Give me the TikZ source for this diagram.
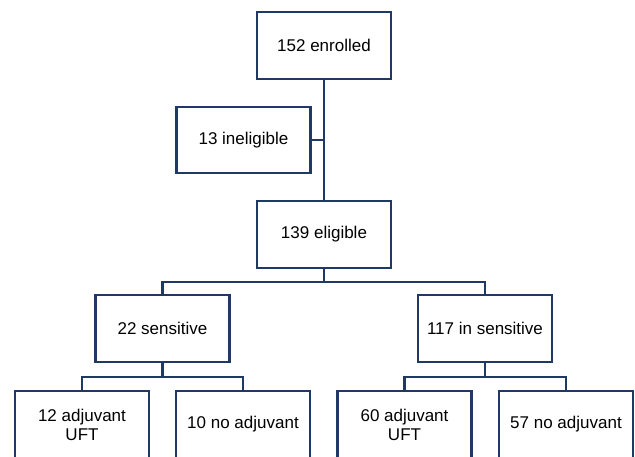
\documentclass[tikz,border=0pt]{standalone}
\usepackage{fontspec}
\setmainfont{Liberation Sans}
\usetikzlibrary{positioning}
\definecolor{boxblue}{RGB}{31,56,100}

\begin{document}
\begin{tikzpicture}[x=1pt,y=-1pt,line width=2.6pt,
  box/.style={draw=boxblue,fill=white,minimum width=134pt,minimum height=67pt,align=center,
    font=\fontsize{17}{19}\selectfont}]
\useasboundingbox (0,0) rectangle (635,456);
\clip (0,0) rectangle (635,456);
\node[box] (enr) at (324,45.5) {152 enrolled};
\node[box,minimum height=66pt] (inel) at (243.5,140) {13 ineligible};
\node[box] (elig) at (324,234.5) {139 eligible};
\node[box] (sens) at (162.5,328.5) {22 sensitive};
\node[box] (insens) at (485,328.5) {117 in sensitive};
\node[box] (adj1) at (82,424.5) {12 adjuvant\\UFT};
\node[box] (noadj1) at (243,424.5) {10 no adjuvant};
\node[box] (adj2) at (404.5,424.5) {60 adjuvant\\UFT};
\node[box] (noadj2) at (566,424.5) {57 no adjuvant};

\coordinate (v1) at (324,140);
\coordinate (v2) at (324,282);
\coordinate (v3) at (162.5,377);
\coordinate (v4) at (485,377);
\draw[boxblue] (enr) -- (elig);
\draw[boxblue] (inel) -- (v1);
\draw[boxblue] (elig) -- (v2);
\draw[boxblue] (v2) -| (sens);
\draw[boxblue] (v2) -| (insens);
\draw[boxblue] (sens) -- (v3);
\draw[boxblue] (v3) -| (adj1);
\draw[boxblue] (v3) -| (noadj1);
\draw[boxblue] (insens) -- (v4);
\draw[boxblue] (v4) -| (adj2);
\draw[boxblue] (v4) -| (noadj2);

\end{tikzpicture}
\end{document}
